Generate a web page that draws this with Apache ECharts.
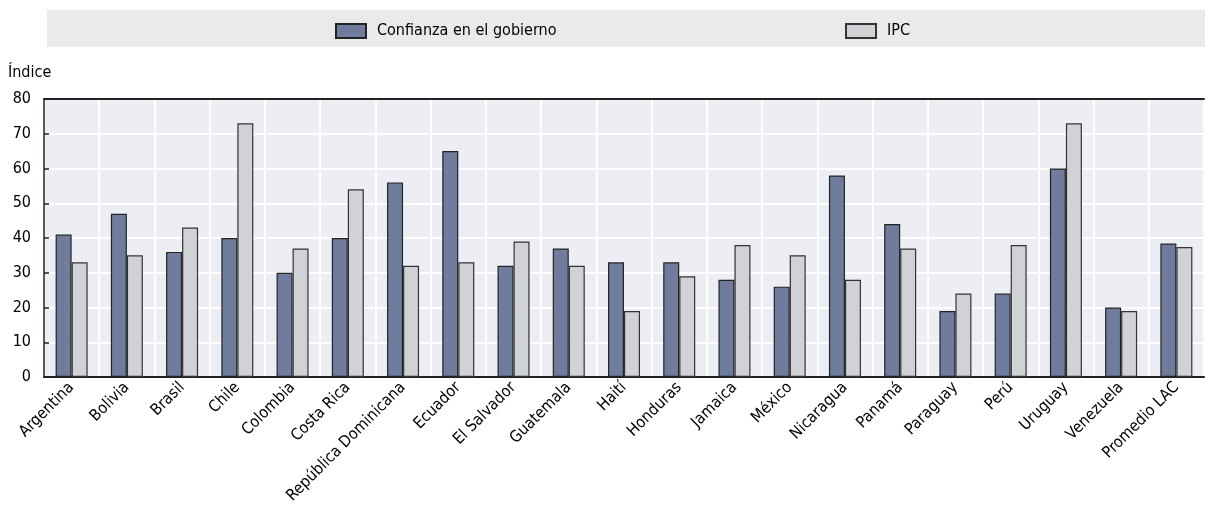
<!DOCTYPE html>
<html>
<head>
<meta charset="utf-8">
<script src="https://cdn.jsdelivr.net/npm/echarts@6/dist/echarts.min.js"></script>
<style>body{margin:0}#container{width:1205px;height:508px}</style>
</head>
<body>
<div id="container"></div>
<script type="text/javascript">
var paises = ['Argentina','Bolivia','Brasil','Chile','Colombia','Costa Rica','República Dominicana','Ecuador','El Salvador','Guatemala','Haití','Honduras','Jamaica','México','Nicaragua','Panamá','Paraguay','Perú','Uruguay','Venezuela','Promedio LAC'];
var confianza = [41,47,36,40,30,40,56,65,32,37,33,33,28,26,58,44,19,24,60,20,38.4];
var ipc = [33,35,43,73,37,54,32,33,39,32,19,29,38,35,28,37,24,38,73,19,37.4];
var yTicks = [0,10,20,30,40,50,60,70,80];

var myChart = echarts.init(document.getElementById('container'));
var fuente = 'Liberation Sans Narrow, DejaVu Sans Condensed, Liberation Sans, sans-serif';

var leyendaBase = {
    top: 18,
    itemWidth: 30,
    itemHeight: 14,
    icon: 'rect',
    textStyle: {fontSize: 16, color: '#000', fontFamily: fuente, padding: [0, 0, 0, 6]}
};

var option = {
    animation: false,
    textStyle: {fontFamily: fuente},
    graphic: [
        // banda gris de la leyenda
        {type: 'rect', shape: {x: 47, y: 10, width: 1158, height: 37}, style: {fill: '#e9eaec'}, z: -1},
        {type: 'text', left: 8, top: 65, style: {text: 'Índice', fontSize: 16, fontFamily: fuente, fill: '#000'}}
    ],
    legend: [
        Object.assign({left: 330, data: ['Confianza en el gobierno']}, leyendaBase),
        Object.assign({left: 840, data: ['IPC']}, leyendaBase)
    ],
    grid: {
        left: 44, right: 1, top: 99, bottom: 131,
        show: true,
        backgroundColor: '#eceef4',
        borderWidth: 0
    },
    xAxis: [
        {
            type: 'category',
            data: paises,
            axisLine: {lineStyle: {color: '#222', width: 2}},
            axisTick: {inside: true, length: 5, lineStyle: {color: '#222', width: 2}},
            splitLine: {show: true, lineStyle: {color: '#fff', width: 2}},
            axisLabel: {rotate: 45, interval: 0, fontSize: 16, color: '#000', margin: 8, fontFamily: fuente}
        },
        {
            // borde superior
            type: 'category',
            position: 'top',
            data: paises,
            axisLine: {lineStyle: {color: '#222', width: 2}},
            axisTick: {show: false},
            axisLabel: {show: false}
        }
    ],
    yAxis: {
        type: 'value',
        min: yTicks[0],
        max: yTicks[yTicks.length - 1],
        interval: 10,
        axisLine: {show: true, lineStyle: {color: '#222', width: 1.5}},
        axisTick: {show: true, inside: true, length: 5, lineStyle: {color: '#222', width: 1.5}},
        splitLine: {lineStyle: {color: '#fff', width: 2}},
        axisLabel: {fontSize: 16, color: '#000', margin: 13, fontFamily: fuente}
    },
    series: [
        {
            name: 'Confianza en el gobierno',
            type: 'bar',
            data: confianza,
            barWidth: 16,
            barGap: '0%',
            itemStyle: {color: '#6f7c9e', borderColor: '#222', borderWidth: 1.2}
        },
        {
            name: 'IPC',
            type: 'bar',
            data: ipc,
            barWidth: 16,
            itemStyle: {color: '#d1d2d5', borderColor: '#333', borderWidth: 1.2}
        }
    ]
};
myChart.setOption(option);
</script>
</body>
</html>
